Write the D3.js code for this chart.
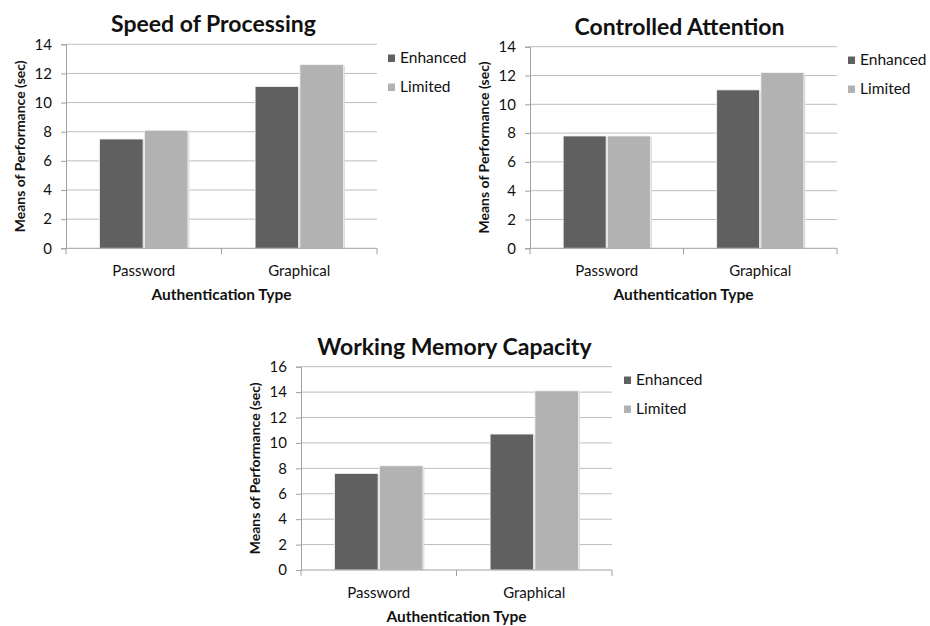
<!DOCTYPE html>
<html>
<head>
<meta charset="utf-8">
<script src="https://cdn.jsdelivr.net/npm/d3@7"></script>
<style>
  html, body { margin: 0; padding: 0; background: #fff; }
  svg { display: block; }
  text { font-family: Lato, "Open Sans", sans-serif; fill: #111; }
</style>
</head>
<body>
<svg id="chart" width="930" height="626"></svg>
<script>
// Authentication performance means, by cognitive factor
const categories = ["Password", "Graphical"];
const seriesNames = ["Enhanced", "Limited"];

const speedEnhanced = [7.5, 11.1];
const speedLimited = [8.1, 12.6];

const attentionEnhanced = [7.8, 11.0];
const attentionLimited = [7.8, 12.2];

const memoryEnhanced = [7.6, 10.7];
const memoryLimited = [8.2, 14.1];

const panelTitles = ["Speed of Processing", "Controlled Attention", "Working Memory Capacity"];
const speedTicks = [0, 2, 4, 6, 8, 10, 12, 14];
const attentionTicks = [0, 2, 4, 6, 8, 10, 12, 14];
const memoryTicks = [0, 2, 4, 6, 8, 10, 12, 14, 16];

const yTitle = "Means of Performance (sec)";
const xTitle = "Authentication Type";

const colors = { Enhanced: "#606060", Limited: "#b2b2b2" };

const svg = d3.select("#chart");

function drawPanel(opt) {
  const { left, right, top, bottom, title, titleShift, ticks, enhanced, limited, legendX, legendY } = opt;
  const g = svg.append("g");

  const x = d3.scaleBand().domain(categories).range([left, right]).paddingInner(0).paddingOuter(0);
  const y = d3.scaleLinear().domain([0, d3.max(ticks)]).range([bottom, top]);

  // horizontal gridlines
  g.append("g").selectAll("line").data(ticks.filter(t => t > 0)).join("line")
    .attr("x1", left).attr("x2", right)
    .attr("y1", d => y(d)).attr("y2", d => y(d))
    .attr("stroke", "#bdbdbd").attr("stroke-width", 1);

  // y axis
  const yAxis = d3.axisLeft(y).tickValues(ticks).tickSize(5).tickPadding(9).tickFormat(d3.format("d"));
  const ya = g.append("g").attr("transform", `translate(${left},0)`).call(yAxis);
  ya.select(".domain").attr("stroke", "#a0a0a0");
  ya.selectAll(".tick line").attr("stroke", "#a0a0a0");
  ya.selectAll(".tick text").style("font-size", "15px").style("fill", "#111")
    .style("font-family", "Lato, 'Open Sans', sans-serif");

  // bars, grouped by category
  const inner = d3.scaleBand().domain(seriesNames).range([0, x.bandwidth()]).paddingOuter(0.75).paddingInner(0.03);
  const rows = categories.map((c, i) => ({ cat: c, Enhanced: enhanced[i], Limited: limited[i] }));
  const grp = g.append("g").selectAll("g").data(rows).join("g")
    .attr("transform", d => `translate(${x(d.cat)},0)`);

  // soft shadow behind each bar
  grp.selectAll("rect.shadow").data(d => seriesNames.map(s => ({ s, v: d[s] }))).join("rect")
    .attr("class", "shadow")
    .attr("x", d => inner(d.s) + 1.5).attr("width", inner.bandwidth())
    .attr("y", d => y(d.v) + 1).attr("height", d => bottom - y(d.v) - 1)
    .attr("fill", "#d9d9d9");

  grp.selectAll("rect.bar").data(d => seriesNames.map(s => ({ s, v: d[s] }))).join("rect")
    .attr("class", "bar")
    .attr("x", d => inner(d.s)).attr("width", inner.bandwidth())
    .attr("y", d => y(d.v)).attr("height", d => bottom - y(d.v))
    .attr("fill", d => colors[d.s])
    .attr("stroke", "#f2f2f2").attr("stroke-width", 0.8);

  // x axis line with category boundary ticks
  g.append("line").attr("x1", left).attr("x2", right).attr("y1", bottom).attr("y2", bottom)
    .attr("stroke", "#a0a0a0");
  const bounds = [left, ...categories.slice(1).map(c => x(c)), right];
  g.append("g").selectAll("line").data(bounds).join("line")
    .attr("x1", d => d).attr("x2", d => d).attr("y1", bottom).attr("y2", bottom + 6)
    .attr("stroke", "#a0a0a0");

  // category labels
  g.append("g").selectAll("text").data(categories).join("text")
    .attr("x", d => x(d) + x.bandwidth() / 2).attr("y", bottom + 28)
    .attr("text-anchor", "middle").style("font-size", "15px")
    .text(d => d);

  // axis titles
  g.append("text").attr("x", (left + right) / 2).attr("y", bottom + 52)
    .attr("text-anchor", "middle").style("font-size", "15.5px").style("font-weight", "bold")
    .text(xTitle);
  g.append("text")
    .attr("transform", `translate(${left - 41},${(top + bottom) / 2}) rotate(-90)`)
    .attr("text-anchor", "middle").style("font-size", "14px").style("font-weight", "bold")
    .text(yTitle);

  // chart title
  g.append("text").attr("x", (left + right) / 2 + titleShift).attr("y", top - 12)
    .attr("text-anchor", "middle").style("font-size", "23px").style("font-weight", "bold")
    .text(title);

  // legend
  const lg = g.append("g").attr("transform", `translate(${legendX},${legendY})`);
  const items = lg.selectAll("g").data(seriesNames).join("g")
    .attr("transform", (d, i) => `translate(0,${i * 29})`);
  items.append("rect").attr("x", 0).attr("y", -7.5).attr("width", 7).attr("height", 7.5)
    .attr("fill", d => colors[d]);
  items.append("text").attr("x", 12).attr("y", 1).style("font-size", "15.5px").text(d => d);
}

drawPanel({
  left: 66, right: 377, top: 44.3, bottom: 248.3,
  title: panelTitles[0], titleShift: -8, ticks: speedTicks,
  enhanced: speedEnhanced, limited: speedLimited,
  legendX: 388, legendY: 62
});

drawPanel({
  left: 530, right: 837, top: 46.7, bottom: 248.3,
  title: panelTitles[1], titleShift: -4, ticks: attentionTicks,
  enhanced: attentionEnhanced, limited: attentionLimited,
  legendX: 848, legendY: 64
});

drawPanel({
  left: 301, right: 612, top: 366.7, bottom: 570,
  title: panelTitles[2], titleShift: -2, ticks: memoryTicks,
  enhanced: memoryEnhanced, limited: memoryLimited,
  legendX: 624, legendY: 384
});
</script>
</body>
</html>
